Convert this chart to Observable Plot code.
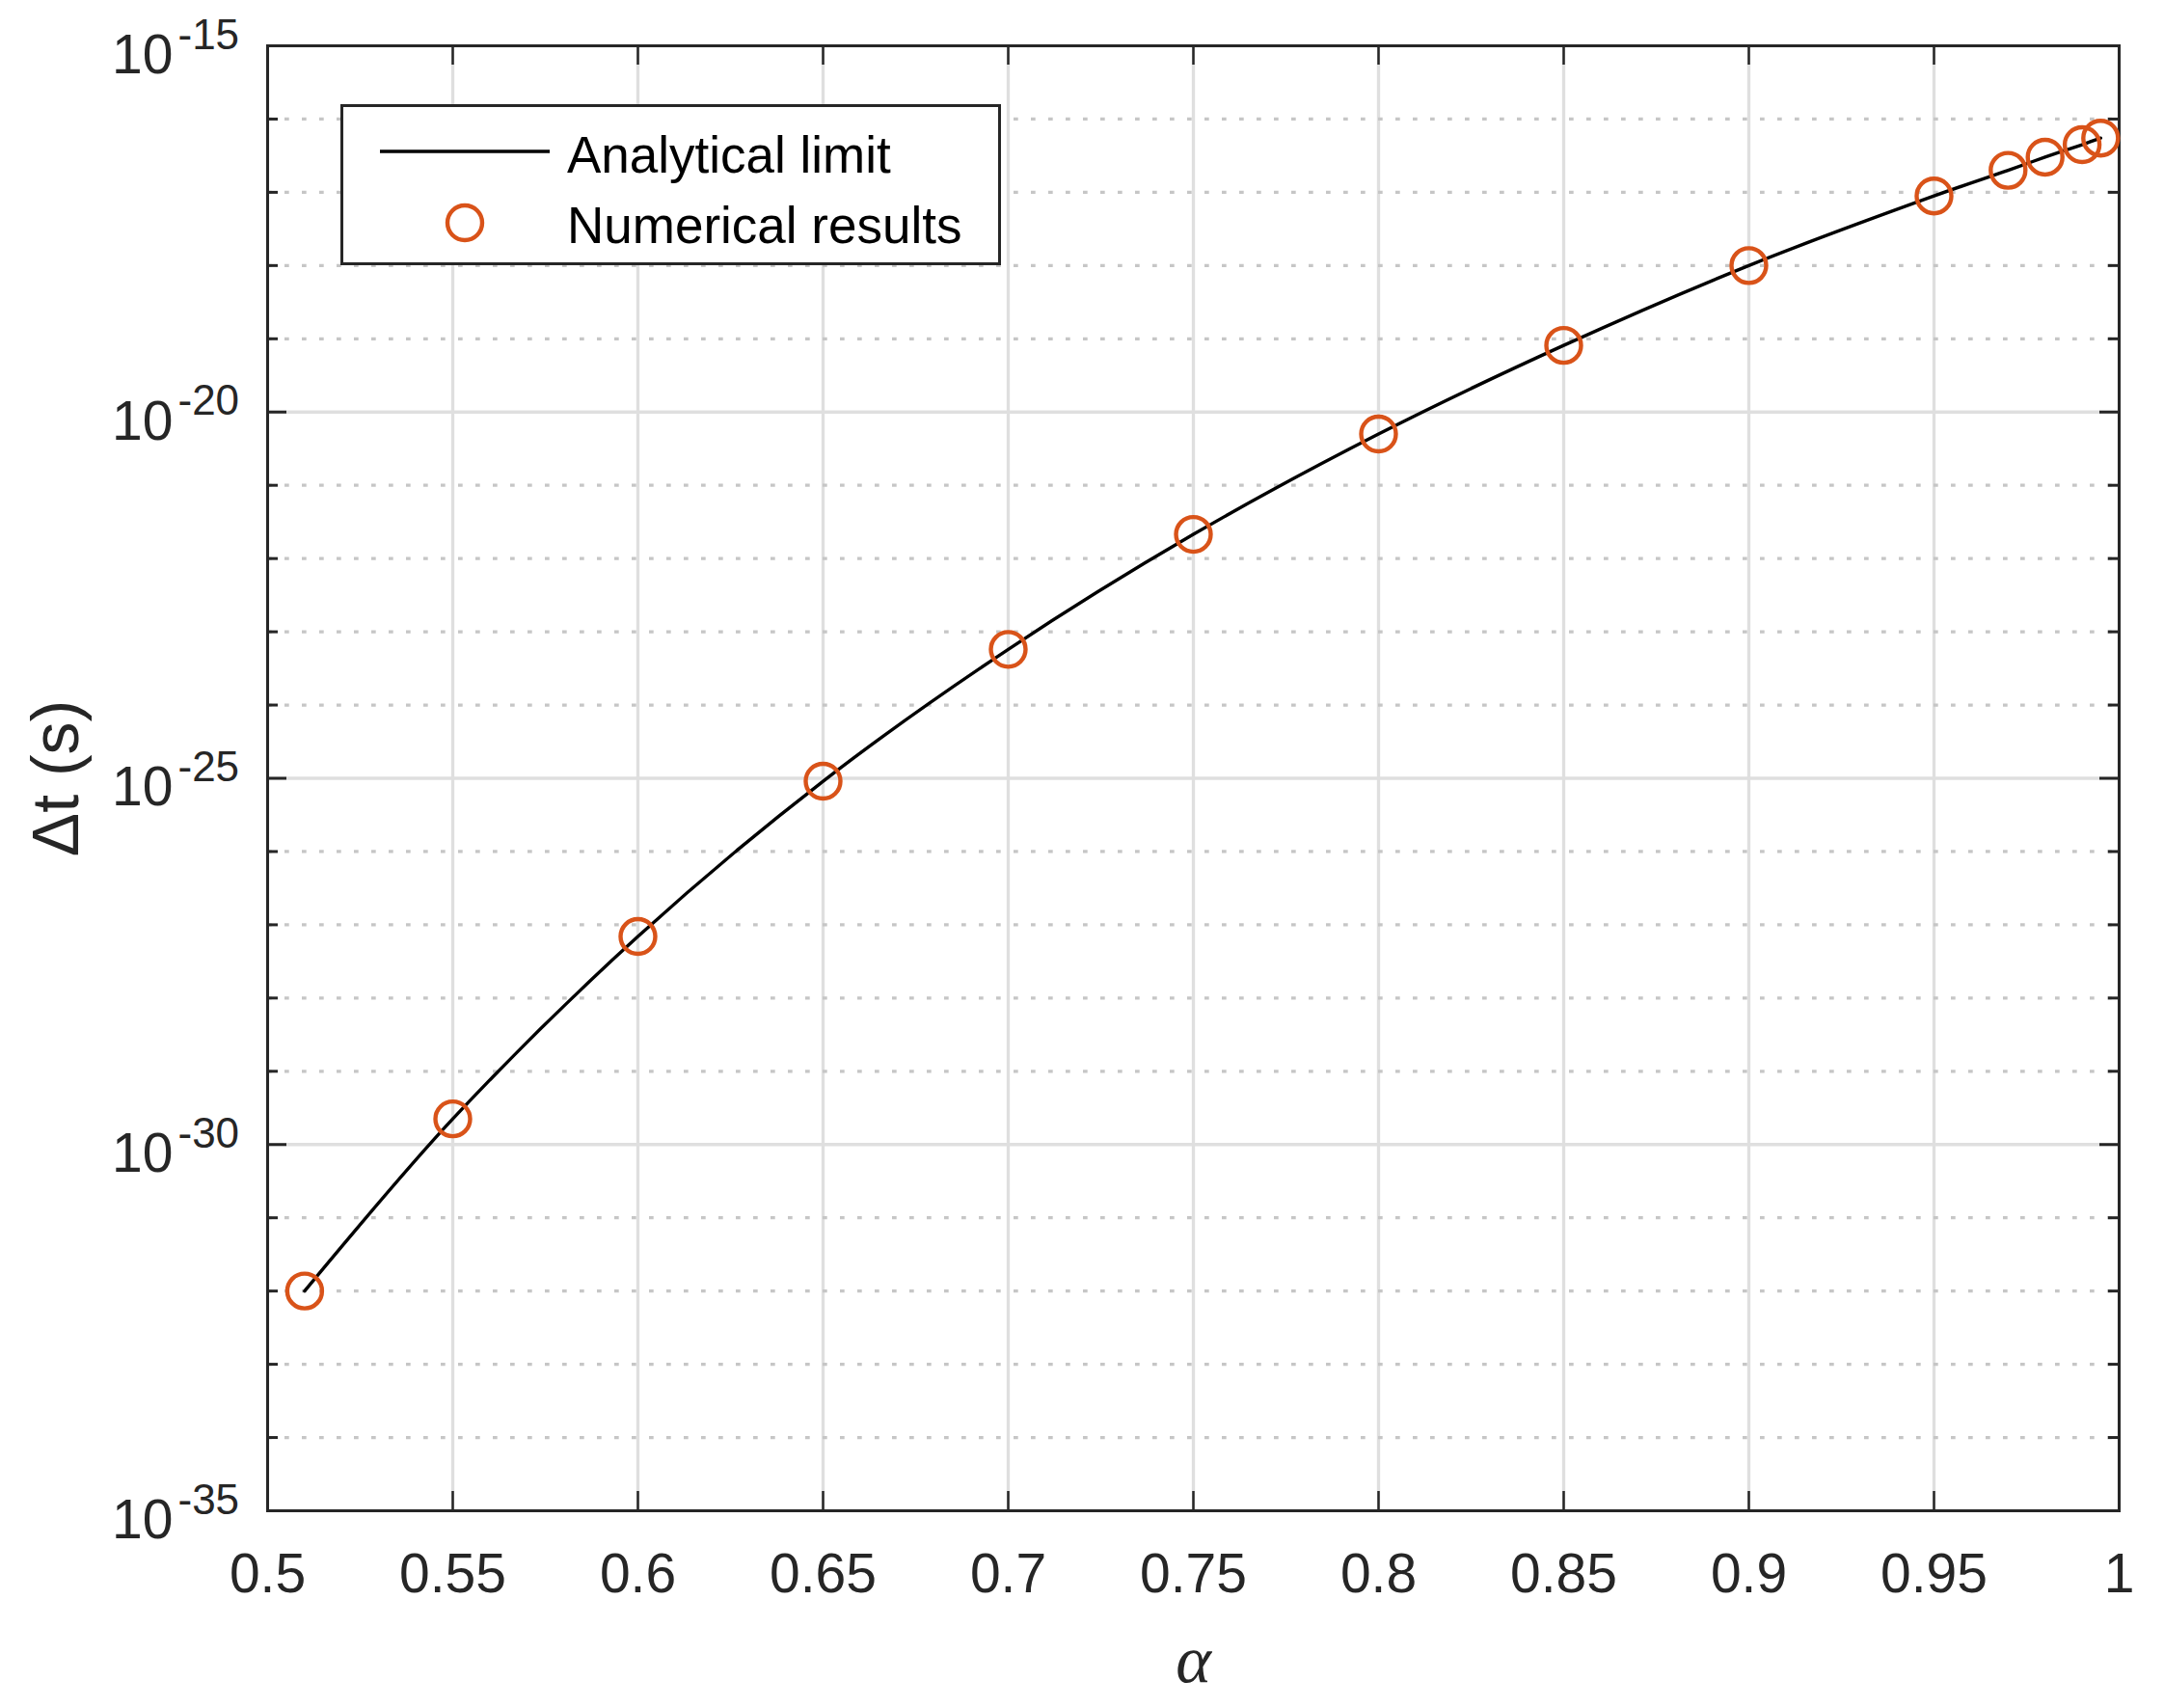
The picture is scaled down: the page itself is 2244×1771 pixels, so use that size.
<!DOCTYPE html>
<html>
<head>
<meta charset="utf-8">
<script src="https://cdn.jsdelivr.net/npm/d3@7"></script>
<script src="https://cdn.jsdelivr.net/npm/@observablehq/plot@0.6"></script>
<style>
  html, body { margin: 0; padding: 0; background: #fff; }
  #wrap { position: relative; width: 2244px; height: 1771px; font-family: "Liberation Sans", Arial, Helvetica, sans-serif; }
  #legend { position: absolute; left: 353px; top: 108px; width: 685px; height: 167px; box-sizing: border-box;
            border: 3px solid #262626; background: #fff; }
  #legend svg { position: absolute; left: 0; top: 0; overflow: visible; }
</style>
</head>
<body>
<div id="wrap"></div>
<script>
// ---- data ----
const alphaNumerical = [0.51, 0.55, 0.6, 0.65, 0.7, 0.75, 0.8, 0.85, 0.9, 0.95, 0.97, 0.98, 0.99, 0.995];
const log10DtNumerical = [-32.0, -29.65, -27.16, -25.04, -23.24, -21.67, -20.30, -19.09, -18.0, -17.05, -16.70, -16.52, -16.35, -16.26];
const alphaAnalytical = [0.51, 0.55, 0.6, 0.65, 0.7, 0.75, 0.8, 0.85, 0.9, 0.95, 0.97, 0.98, 0.99, 0.995];
const log10DtAnalytical = [-32.0, -29.65, -27.16, -25.04, -23.24, -21.67, -20.30, -19.09, -18.0, -17.05, -16.70, -16.52, -16.35, -16.26];
const xTicks = [0.5, 0.55, 0.6, 0.65, 0.7, 0.75, 0.8, 0.85, 0.9, 0.95, 1];
const yMajorExponents = [-15, -20, -25, -30, -35];
const yMinorExponents = [-16, -17, -18, -19, -21, -22, -23, -24, -26, -27, -28, -29, -31, -32, -33, -34];
const legendLabels = ["Analytical limit", "Numerical results"];

// ---- derived tables ----
const numerical = alphaNumerical.map((a, i) => ({alpha: a, dt: Math.pow(10, log10DtNumerical[i])}));
const analytical = alphaAnalytical.map((a, i) => ({alpha: a, dt: Math.pow(10, log10DtAnalytical[i])}));
const yMajor = yMajorExponents.map(e => ({e, v: Math.pow(10, e)}));
const yMinor = yMinorExponents.map(e => ({e, v: Math.pow(10, e)}));
const yMajorInner = yMajor.filter(d => d.e !== -15 && d.e !== -35);

const W = 2244, H = 1771;
const mL = 277, mR = 47, mT = 47, mB = 205;
const pw = W - mL - mR, ph = H - mT - mB;
const axisColor = "#262626";
const orange = "#D95319";
const fmtX = d => d3.format("~g")(d);

const chart = Plot.plot({
  width: W, height: H,
  marginLeft: mL, marginRight: mR, marginTop: mT, marginBottom: mB,
  style: {fontFamily: '"Liberation Sans", Arial, Helvetica, sans-serif', background: "#fff", color: axisColor, overflow: "visible"},
  x: {domain: [0.5, 1]},
  y: {type: "log", domain: [1e-35, 1e-15], axis: null},
  marks: [
    // grid
    Plot.ruleX(xTicks, {x: d => d, stroke: "#dfdfdf", strokeWidth: 3.3}),
    Plot.ruleY(yMinor, {y: "v", stroke: "#c6c6c6", strokeWidth: 3.3, strokeDasharray: "4.7,13.3"}),
    Plot.ruleY(yMajorInner, {y: "v", stroke: "#dfdfdf", strokeWidth: 3.3}),
    // inward ticks
    Plot.tickY(yMajor, {y: "v", stroke: axisColor, strokeWidth: 3, insetRight: pw - 20}),
    Plot.tickY(yMajor, {y: "v", stroke: axisColor, strokeWidth: 3, insetLeft: pw - 20}),
    Plot.tickY(yMinor, {y: "v", stroke: axisColor, strokeWidth: 3, insetRight: pw - 11}),
    Plot.tickY(yMinor, {y: "v", stroke: axisColor, strokeWidth: 3, insetLeft: pw - 11}),
    Plot.tickX(xTicks, {x: d => d, stroke: axisColor, strokeWidth: 2.5, insetBottom: ph - 20}),
    Plot.tickX(xTicks, {x: d => d, stroke: axisColor, strokeWidth: 2.5, insetTop: ph - 20}),
    // frame
    Plot.frame({stroke: axisColor, strokeWidth: 3}),
    // data
    Plot.line(analytical, {x: "alpha", y: "dt", stroke: "#000", strokeWidth: 3.4, curve: "catmull-rom"}),
    Plot.dot(numerical, {x: "alpha", y: "dt", r: 18, stroke: orange, strokeWidth: 4.4, fill: "none"}),
    // x axis labels
    Plot.axisX(xTicks, {tickSize: 0, tickPadding: 44, fontSize: 57, tickFormat: fmtX, label: null, fill: axisColor}),
    // y tick labels 10^e
    Plot.text(yMajor, {y: "v", frameAnchor: "left", text: () => "10", textAnchor: "end", lineAnchor: "middle", dx: -98, dy: 10, fontSize: 57, fill: axisColor}),
    Plot.text(yMajor, {y: "v", frameAnchor: "left", text: d => String(d.e), textAnchor: "start", lineAnchor: "middle", dx: -93, dy: -11, fontSize: 44, fill: axisColor}),
    // axis titles
    Plot.text(["\u0394t (s)"], {text: d => d, frameAnchor: "left", textAnchor: "middle", lineAnchor: "middle", dx: -218, rotate: -90, fontSize: 68, fill: axisColor}),
    Plot.text(["\u03b1"], {text: d => d, frameAnchor: "bottom", textAnchor: "middle", lineAnchor: "middle", dy: 155, fontSize: 70, fontStyle: "italic", fontFamily: '"Liberation Serif", "DejaVu Serif", serif', fill: axisColor})
  ]
});

const wrap = document.getElementById("wrap");
wrap.appendChild(chart);

// legend box (inside the axes, top-left)
const legend = document.createElement("div");
legend.id = "legend";
wrap.appendChild(legend);
const LX = 353, LY = 108;
const lsvg = d3.select(legend).append("svg").attr("width", 685).attr("height", 167);
lsvg.append("line").attr("x1", 391 - LX).attr("x2", 567 - LX).attr("y1", 154 - LY).attr("y2", 154 - LY)
  .attr("stroke", "#000").attr("stroke-width", 3.4);
lsvg.append("circle").attr("cx", 479 - LX).attr("cy", 228 - LY).attr("r", 18)
  .attr("fill", "none").attr("stroke", orange).attr("stroke-width", 4.4);
lsvg.selectAll("text.lab").data(legendLabels).join("text").attr("class", "lab")
  .attr("x", 585 - LX).attr("y", (d, i) => (i === 0 ? 176 : 249) - LY)
  .attr("font-size", 53).attr("fill", "#000")
  .attr("font-family", '"Liberation Sans", Arial, Helvetica, sans-serif')
  .text(d => d);
</script>
</body>
</html>
